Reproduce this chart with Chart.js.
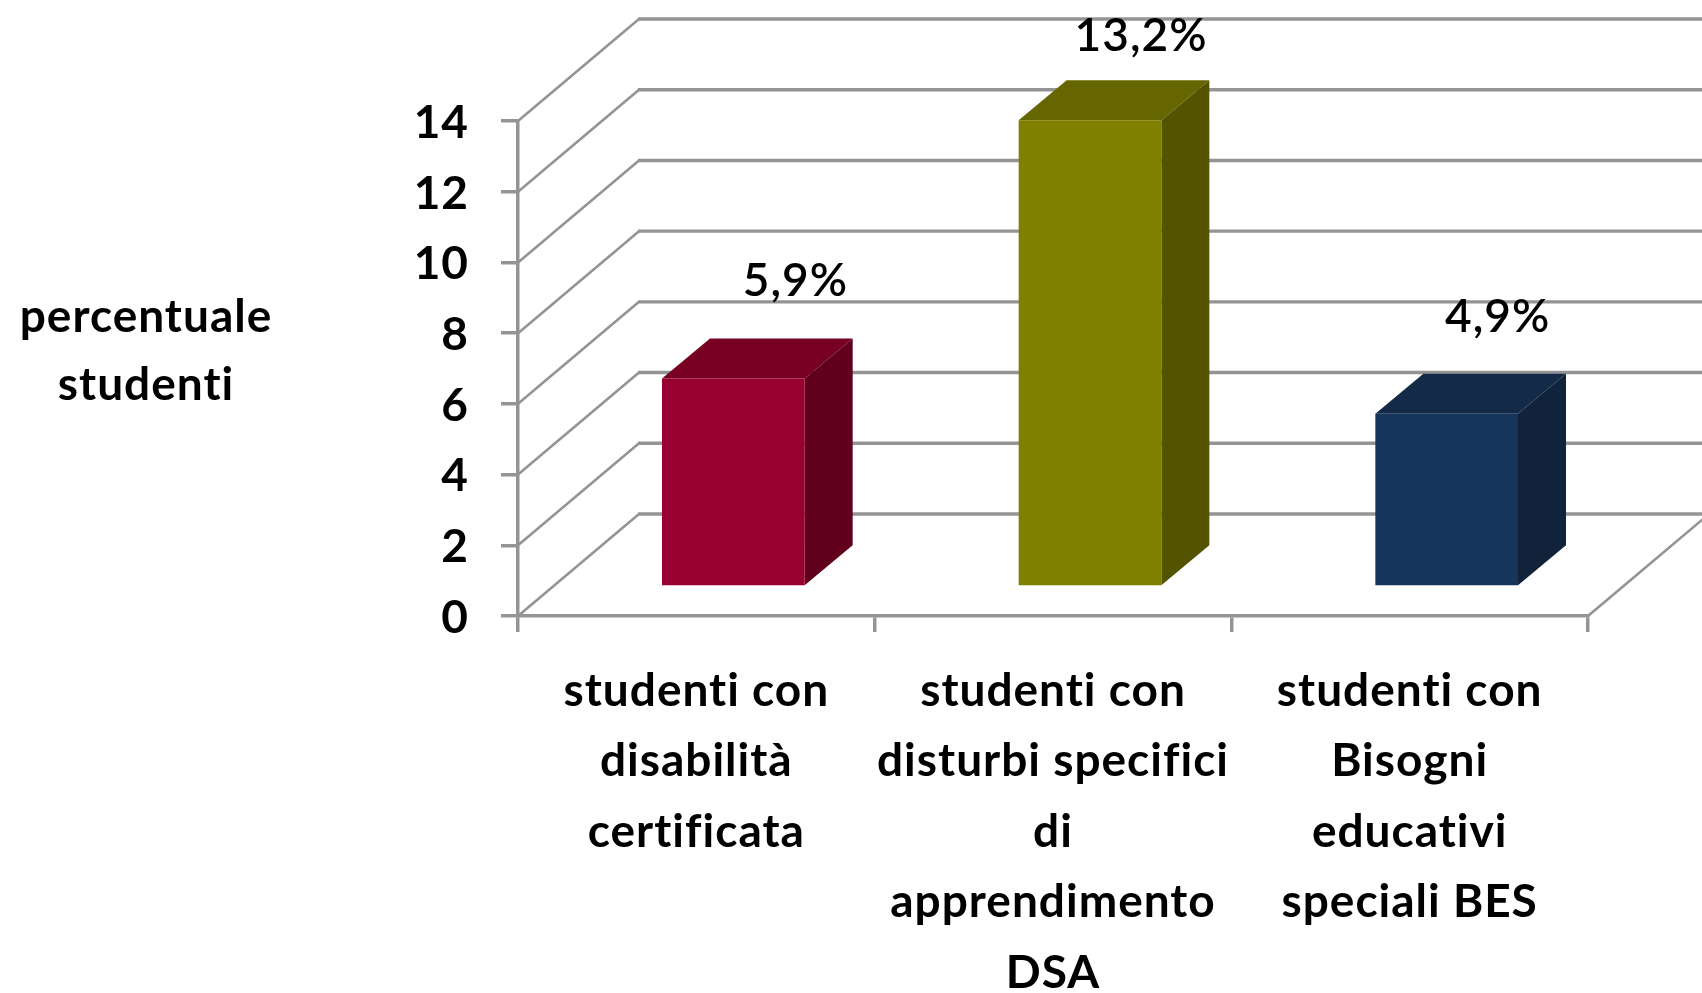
<!DOCTYPE html>
<html lang="it">
<head>
<meta charset="utf-8">
<title>Percentuale studenti</title>
<script src="https://cdn.jsdelivr.net/npm/chart.js@4"></script>
<style>
html,body{margin:0;padding:0;background:#fff;overflow:hidden}
#wrap{position:relative;width:1702px;height:993px}
canvas{display:block;filter:blur(0.7px)}
</style>
</head>
<body>
<div id="wrap"><canvas id="c" width="1702" height="993"></canvas></div>
<script>
const categories = [
  ["studenti con", "disabilità", "certificata"],
  ["studenti con", "disturbi specifici", "di", "apprendimento", "DSA"],
  ["studenti con", "Bisogni", "educativi", "speciali BES"]
];
const values = [5.9, 13.2, 4.9];
const valueLabels = ["5,9%", "13,2%", "4,9%"];
const frontColors = ["#970030", "#808000", "#16355b"];
const topColors = ["#780023", "#666600", "#132b49"];
const sideColors = ["#60001c", "#535300", "#10233b"];
const yTitle = ["percentuale", "studenti"];

const FONT = "Lato, 'Open Sans', sans-serif";
const GRID = "#949494";
const WALL = {dx: 121, dy: 102};     // depth of the plot box
const BAR_SHIFT = {dx: 37, dy: 29};  // bars stand in the middle of the floor
const BAR_DEPTH = {dx: 48, dy: 40};
const LABEL_NUDGE = [14, 3, 3];

const box3d = {
  id: "box3d",
  beforeDraw(chart) {
    // spaced glyphs: the reference has no ti / fi ligatures
    chart.ctx.letterSpacing = "1px";
  },
  beforeDatasetsDraw(chart) {
    const {ctx, chartArea: a, scales: {y}} = chart;
    ctx.save();
    ctx.strokeStyle = GRID;
    y.ticks.forEach(t => {
      const py = y.getPixelForValue(t.value);
      ctx.lineWidth = 2.6;
      ctx.beginPath();
      ctx.moveTo(a.left, py);
      ctx.lineTo(a.left + WALL.dx, py - WALL.dy);
      ctx.stroke();
      ctx.lineWidth = 3.4;
      ctx.beginPath();
      ctx.moveTo(a.left + WALL.dx - 1, py - WALL.dy);
      ctx.lineTo(chart.width, py - WALL.dy);
      ctx.stroke();
    });
    ctx.lineWidth = 2.6;
    ctx.beginPath();
    ctx.moveTo(a.right, a.bottom);
    ctx.lineTo(a.right + WALL.dx, a.bottom - WALL.dy);
    ctx.stroke();
    ctx.restore();
    ctx.save();
    ctx.translate(BAR_SHIFT.dx, -BAR_SHIFT.dy);
    chart.getDatasetMeta(0).data.forEach((bar, i) => {
      const l = bar.x - bar.width / 2, r = bar.x + bar.width / 2;
      ctx.fillStyle = topColors[i];
      ctx.beginPath();
      ctx.moveTo(l, bar.y);
      ctx.lineTo(l + BAR_DEPTH.dx, bar.y - BAR_DEPTH.dy);
      ctx.lineTo(r + BAR_DEPTH.dx, bar.y - BAR_DEPTH.dy);
      ctx.lineTo(r, bar.y);
      ctx.closePath();
      ctx.fill();
      ctx.fillStyle = sideColors[i];
      ctx.beginPath();
      ctx.moveTo(r, bar.y);
      ctx.lineTo(r + BAR_DEPTH.dx, bar.y - BAR_DEPTH.dy);
      ctx.lineTo(r + BAR_DEPTH.dx, bar.base - BAR_DEPTH.dy);
      ctx.lineTo(r, bar.base);
      ctx.closePath();
      ctx.fill();
    });
    // stays translated while the library draws the front faces
  },
  afterDatasetsDraw(chart) {
    const {ctx} = chart;
    ctx.restore();
    ctx.save();
    ctx.fillStyle = "#000";
    ctx.textAlign = "center";
    ctx.textBaseline = "middle";
    ctx.font = "600 46px " + FONT;
    chart.getDatasetMeta(0).data.forEach((bar, i) => {
      const lx = bar.x + BAR_SHIFT.dx + BAR_DEPTH.dx + LABEL_NUDGE[i];
      const ly = Math.max(bar.y - BAR_SHIFT.dy - 97, 36);
      ctx.fillText(valueLabels[i], lx, ly);
    });
    ctx.font = "bold 46px " + FONT;
    yTitle.forEach((line, i) => ctx.fillText(line, 146, 317 + i * 68));
    ctx.restore();
  }
};

new Chart(document.getElementById("c"), {
  type: "bar",
  data: {
    labels: categories,
    datasets: [{
      data: values,
      backgroundColor: frontColors,
      borderWidth: 0,
      barPercentage: 0.4,
      categoryPercentage: 1,
      clip: false
    }]
  },
  plugins: [box3d],
  options: {
    responsive: false,
    animation: false,
    events: [],
    layout: {padding: {top: 121, right: 114, left: 0, bottom: 0}},
    plugins: {legend: {display: false}, tooltip: {enabled: false}, title: {display: false}},
    scales: {
      x: {
        offset: true,
        afterFit(s) { s.height = 993 - 616; },
        grid: {drawOnChartArea: false, color: GRID, lineWidth: 3.5, tickLength: 16, offset: true},
        border: {color: GRID, width: 3.5},
        ticks: {
          color: "#000",
          font: {family: FONT, size: 46, weight: "bold", lineHeight: 1.53},
          maxRotation: 0, minRotation: 0, autoSkip: false, padding: 24
        }
      },
      y: {
        min: 0, max: 14,
        afterFit(s) { s.width = 518; },
        grid: {drawOnChartArea: false, color: GRID, lineWidth: 3.5, tickLength: 17},
        border: {color: GRID, width: 3.5},
        ticks: {
          stepSize: 2,
          color: "#000",
          font: {family: FONT, size: 46, weight: "bold"},
          padding: 32,
          labelOffset: 2
        }
      }
    }
  }
});
</script>
</body>
</html>
